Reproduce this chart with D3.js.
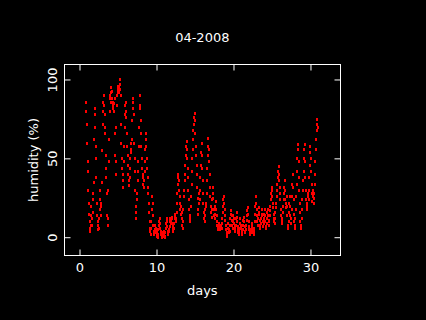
<!DOCTYPE html>
<html>
<head>
<meta charset="utf-8">
<script src="https://cdn.jsdelivr.net/npm/d3@7"></script>
<style>
  html, body { margin: 0; padding: 0; background: #000; }
  text { font-family: "DejaVu Sans", sans-serif; fill: #fff; }
</style>
</head>
<body>
<div id="chart"></div>
<script>
// humidity readings, one every 0.05 day starting at day 0.85
const startDay = 0.85;
const stepDay = 0.05;
const humidity = [
    86, 80, 72,
    60, 48, 42, 30, 22, 15, 10, 6, 4, 8, 14, 20, 12, 8, 16, 28, 24, 35, 62, 78,        // day 1
    82, 70, 58, 50, 38, 22, 14, 8, 5, 10, 6, 12, 18, 24, 30, 20, 14, 22, 35, 55,      // day 2
    72, 80, 86, 90, 84, 78, 70, 66, 52, 44, 38, 28, 14, 8, 12, 30, 48, 62, 80, 88,    // day 3
    90, 86, 92, 95, 93, 88, 84, 86, 82, 85, 80, 88, 66, 52, 40, 48, 70, 84, 90, 92,   // day 4
    94, 96, 92, 95, 97, 100, 94, 90, 72, 60, 50, 44, 36, 32, 40, 48, 58, 70, 78, 84,  // day 5
    86, 80, 76, 66, 58, 52, 46, 40, 36, 33, 38, 44, 50, 56, 60, 54, 62, 74, 82, 88,   // day 6
    86, 78, 60, 50, 42, 30, 20, 12, 16, 24, 28, 36, 42, 48, 58, 70, 82, 90, 84, 74,   // day 7
    66, 58, 50, 44, 38, 34, 40, 36, 32, 42, 48, 56, 62, 66, 58, 50, 44, 38, 32, 28,   // day 8
    22, 16, 10, 6, 4, 2, 6, 10, 18, 26, 22, 14, 8, 4, 2, 5, 8, 4, 3, 6,               // day 9
    4, 2, 1, 0, 2, 5, 8, 10, 12, 9, 6, 4, 2, 1, 0, 2, 3, 1, 2, 4,                     // day 10
    2, 0, 1, 3, 6, 9, 12, 10, 7, 4, 2, 3, 5, 4, 7, 10, 12, 9, 11, 13,                 // day 11
    12, 9, 7, 5, 4, 6, 9, 12, 15, 14, 10, 12, 16, 22, 28, 34, 38, 40, 36, 30,         // day 12
    26, 22, 18, 15, 20, 16, 12, 8, 6, 10, 18, 26, 30, 36, 40, 46, 52, 58, 61, 56,     // day 13
    50, 44, 38, 30, 24, 18, 12, 10, 14, 20, 26, 34, 42, 50, 56, 62, 68, 72, 76, 79,   // day 14
    74, 66, 58, 52, 46, 40, 32, 25, 18, 15, 22, 28, 24, 30, 38, 46, 54, 60, 52, 44,   // day 15
    36, 28, 22, 16, 12, 10, 14, 18, 22, 20, 28, 36, 44, 52, 58, 63, 56, 48, 40, 32,   // day 16
    26, 20, 16, 13, 18, 24, 28, 32, 25, 18, 14, 12, 15, 20, 23, 18, 14, 10, 8, 7,     // day 17
    6, 5, 7, 9, 8, 6, 5, 7, 8, 6, 9, 12, 16, 20, 24, 26, 22, 18, 14, 11,              // day 18
    8, 5, 3, 2, 1, 3, 6, 9, 5, 3, 4, 8, 12, 15, 17, 14, 11, 8, 6, 10,                 // day 19
    14, 12, 9, 7, 5, 4, 8, 12, 16, 13, 10, 7, 5, 3, 2, 4, 6, 9, 12, 8,                // day 20
    6, 4, 2, 3, 5, 8, 11, 13, 10, 7, 4, 3, 5, 8, 11, 14, 17, 19, 15, 10,              // day 21
    7, 5, 4, 3, 2, 3, 5, 7, 9, 6, 4, 3, 2, 4, 6, 10, 15, 20, 26, 22,                  // day 22
    18, 14, 10, 8, 12, 16, 19, 15, 11, 8, 6, 9, 12, 15, 18, 14, 10, 7, 9, 12,         // day 23
    15, 18, 14, 10, 7, 6, 9, 12, 16, 18, 14, 10, 8, 11, 14, 17, 20, 24, 28, 32,       // day 24
    30, 26, 22, 19, 15, 12, 10, 9, 12, 16, 19, 22, 26, 30, 34, 38, 42, 45, 40, 36,    // day 25
    32, 28, 24, 18, 14, 10, 9, 12, 16, 20, 24, 28, 32, 36, 30, 24, 19, 22, 26, 20,    // day 26
    14, 8, 6, 10, 16, 22, 26, 20, 14, 9, 12, 18, 26, 34, 40, 32, 24, 15, 10, 6,       // day 27
    8, 12, 18, 26, 34, 42, 50, 56, 59, 48, 38, 30, 22, 16, 10, 6, 8, 12, 18, 24,      // day 28
    30, 36, 42, 50, 56, 59, 48, 38, 30, 24, 20, 18, 22, 26, 28, 24, 30, 38, 46, 54,   // day 29
    58, 50, 42, 34, 28, 23, 26, 30, 25, 22, 28, 34, 40, 48, 56, 62, 68, 72, 75, 70    // day 30
];
const xTicks = [0, 10, 20, 30];
const yTicks = [0, 50, 100];

const data = humidity.map((h, i) => ({day: startDay + i * stepDay, h: h}));

const W = 426, H = 320;
const margin = {top: 64.5, right: 85.5, bottom: 64.5, left: 64.5};

const svg = d3.select("#chart")
    .append("svg")
    .attr("width", W)
    .attr("height", H)
    .style("display", "block")
    .style("background", "#000");

const x = d3.scaleLinear().domain([-1.95, 33.9]).range([margin.left, W - margin.right]);
const y = d3.scaleLinear().domain([-11.6, 109.5]).range([H - margin.bottom, margin.top]);

// ticks point inward, mirrored on top and right
const styleAxis = g => {
    g.select(".domain").remove();
    g.selectAll("line").attr("stroke", "#fff");
    g.selectAll("text").attr("fill", "#fff").style("font-size", "13px");
};

svg.append("g")
    .attr("transform", `translate(0,${H - margin.bottom})`)
    .call(d3.axisBottom(x).tickValues(xTicks).tickSize(-6).tickPadding(7))
    .call(styleAxis)
    .attr("font-family", null);

svg.append("g")
    .attr("transform", `translate(0,${margin.top})`)
    .call(d3.axisTop(x).tickValues(xTicks).tickSize(-6).tickFormat(""))
    .call(styleAxis);

const yAxis = svg.append("g")
    .attr("transform", `translate(${margin.left},0)`)
    .call(d3.axisLeft(y).tickValues(yTicks).tickSize(-6))
    .call(styleAxis)
    .attr("font-family", null);

yAxis.selectAll(".tick text")
    .attr("x", null)
    .attr("dy", "0.35em")
    .attr("text-anchor", "middle")
    .attr("transform", "translate(-12,0) rotate(-90)");

svg.append("g")
    .attr("transform", `translate(${W - margin.right},0)`)
    .call(d3.axisRight(y).tickValues(yTicks).tickSize(-6).tickFormat(""))
    .call(styleAxis);

// frame
svg.append("rect")
    .attr("x", margin.left)
    .attr("y", margin.top)
    .attr("width", W - margin.left - margin.right)
    .attr("height", H - margin.top - margin.bottom)
    .attr("fill", "none")
    .attr("stroke", "#fff");

// points
svg.append("g")
    .selectAll("rect")
    .data(data)
    .join("rect")
    .attr("x", d => Math.round(x(d.day)) - 1)
    .attr("y", d => Math.round(y(d.h)) - 1)
    .attr("width", 2)
    .attr("height", 3)
    .attr("fill", "#ff0000");

svg.append("text")
    .attr("x", 202.3)
    .attr("y", 41.5)
    .attr("text-anchor", "middle")
    .style("font-size", "13px")
    .text("04-2008");

svg.append("text")
    .attr("x", 202.3)
    .attr("y", 295)
    .attr("text-anchor", "middle")
    .style("font-size", "13px")
    .text("days");

svg.append("text")
    .attr("transform", "translate(38,160) rotate(-90)")
    .attr("text-anchor", "middle")
    .style("font-size", "13px")
    .text("humidity (%)");
</script>
</body>
</html>
